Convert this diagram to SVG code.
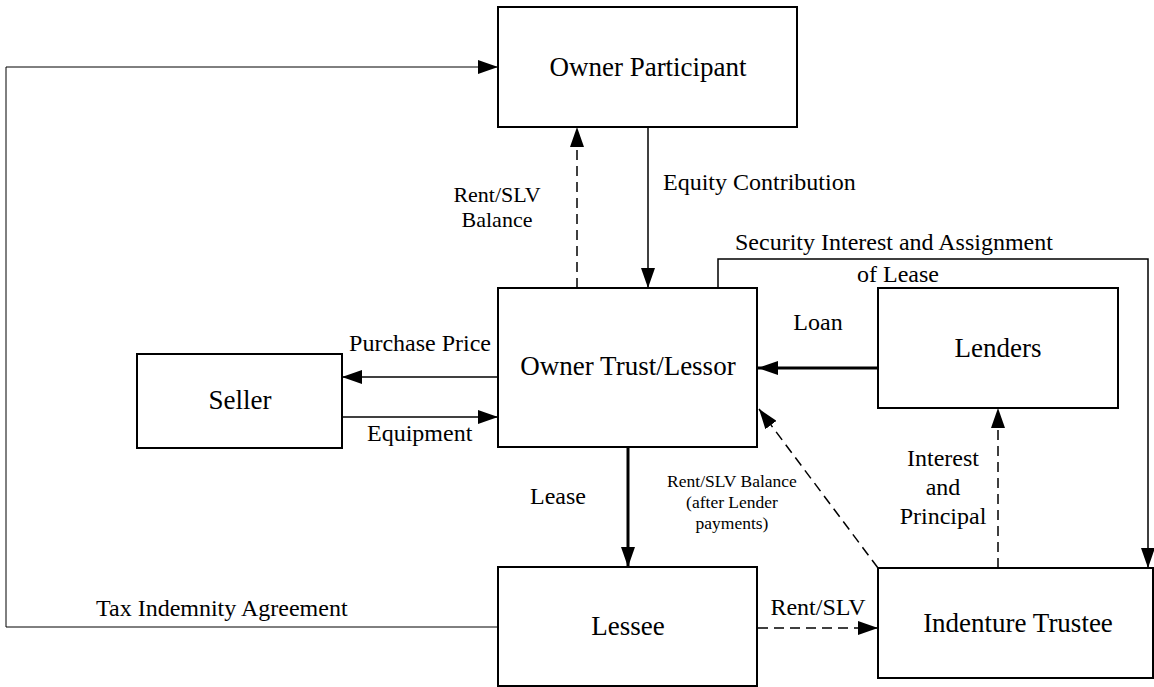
<svg xmlns="http://www.w3.org/2000/svg" width="1154" height="687" viewBox="0 0 1154 687">
<style>
.box{fill:#fff;stroke:#000;stroke-width:2}
.node{font-family:"Liberation Serif","Times New Roman",serif;font-size:27px;text-anchor:middle;fill:#000}
.lbl{font-family:"Liberation Serif","Times New Roman",serif;font-size:24px;fill:#000}
.sm{font-family:"Liberation Serif","Times New Roman",serif;font-size:17.5px;fill:#000;text-anchor:middle}
.c{fill:none;stroke:#000;stroke-width:1.5}
.thin{stroke-width:1}
.thick{stroke-width:3}
.dash{stroke-dasharray:10 6}
</style>
<defs>
<marker id="ah" markerUnits="userSpaceOnUse" viewBox="0 0 20 14" markerWidth="20" markerHeight="14" refX="20" refY="7" orient="auto">
<path d="M0,0 L20,7 L0,14 z" fill="#000"/>
</marker>
</defs>
<rect width="1154" height="687" fill="#fff"/>
<g id="connectors">
<polyline class="c thin" points="498,627 6,627 6,67 498,67" marker-end="url(#ah)"/>
<line class="c dash" x1="577" y1="288" x2="577" y2="127" marker-end="url(#ah)"/>
<line class="c" x1="648" y1="127" x2="648" y2="288" marker-end="url(#ah)"/>
<polyline class="c" points="718,288 718,259 1148,259 1148,568" marker-end="url(#ah)"/>
<line class="c thick" x1="878" y1="368" x2="758" y2="368" marker-end="url(#ah)"/>
<line class="c" x1="498" y1="377" x2="342" y2="377" marker-end="url(#ah)"/>
<line class="c" x1="342" y1="417" x2="498" y2="417" marker-end="url(#ah)"/>
<line class="c thick" x1="628" y1="447" x2="628" y2="567" marker-end="url(#ah)"/>
<line class="c dash" x1="878" y1="568" x2="759" y2="409" marker-end="url(#ah)"/>
<line class="c dash" x1="998" y1="568" x2="998" y2="408" marker-end="url(#ah)"/>
<line class="c dash" x1="758" y1="628" x2="878" y2="628" marker-end="url(#ah)"/>
</g>
<g id="labels">
<text class="lbl" x="663" y="190">Equity Contribution</text>
<text class="lbl" x="497" y="202" text-anchor="middle" style="font-size:22px">Rent/SLV</text>
<text class="lbl" x="497" y="227" text-anchor="middle" style="font-size:22px">Balance</text>
<text class="lbl" x="735" y="250">Security Interest and Assignment</text>
<text class="lbl" x="898" y="282" text-anchor="middle">of Lease</text>
<text class="lbl" x="818" y="330" text-anchor="middle">Loan</text>
<text class="lbl" x="491" y="351" text-anchor="end">Purchase Price</text>
<text class="lbl" x="367" y="441">Equipment</text>
<text class="lbl" x="530" y="504">Lease</text>
<text class="lbl" x="96" y="616">Tax Indemnity Agreement</text>
<text class="lbl" x="818" y="615" text-anchor="middle">Rent/SLV</text>
<text class="lbl" x="943" y="466" text-anchor="middle">Interest</text>
<text class="lbl" x="943" y="495" text-anchor="middle">and</text>
<text class="lbl" x="943" y="524" text-anchor="middle">Principal</text>
<text class="sm" x="732" y="487">Rent/SLV Balance</text>
<text class="sm" x="732" y="508">(after Lender</text>
<text class="sm" x="732" y="529">payments)</text>
</g>
<g id="owner-participant">
<rect class="box" x="498" y="7" width="299" height="120"/>
<text class="node" x="648" y="76">Owner Participant</text>
</g>
<g id="owner-trust">
<rect class="box" x="498" y="288" width="259" height="159"/>
<text class="node" x="628" y="375">Owner Trust/Lessor</text>
</g>
<g id="seller">
<rect class="box" x="137" y="354" width="205" height="94"/>
<text class="node" x="240" y="409">Seller</text>
</g>
<g id="lenders">
<rect class="box" x="878" y="288" width="240" height="120"/>
<text class="node" x="998" y="357">Lenders</text>
</g>
<g id="lessee">
<rect class="box" x="498" y="567" width="259" height="119"/>
<text class="node" x="628" y="635">Lessee</text>
</g>
<g id="indenture-trustee">
<rect class="box" x="878" y="568" width="275" height="110"/>
<text class="node" x="1018" y="632">Indenture Trustee</text>
</g>
</svg>
